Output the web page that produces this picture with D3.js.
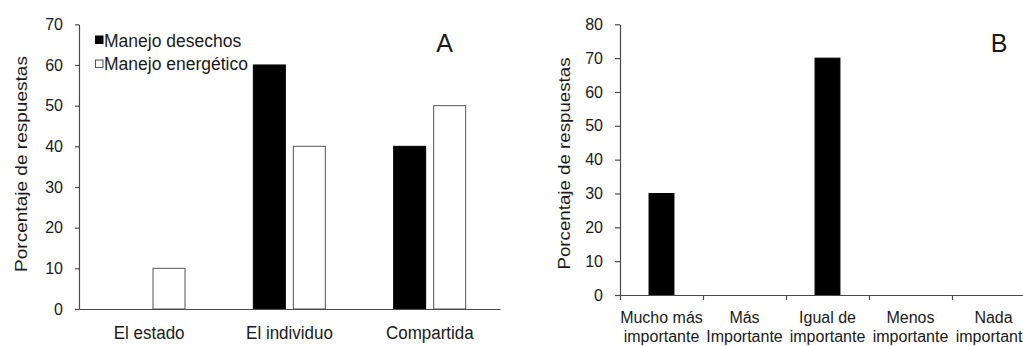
<!DOCTYPE html>
<html>
<head>
<meta charset="utf-8">
<script src="https://cdn.jsdelivr.net/npm/d3@7"></script>
<style>
  html, body { margin: 0; padding: 0; background: #fff; }
  svg { display: block; }
  text { font-family: "Liberation Sans", Arial, sans-serif; fill: #1a1a1a; }
</style>
</head>
<body>
<svg id="chart" width="1023" height="346"></svg>
<script>
// ---- Data: panel A ----
const categoriesA = ["El estado", "El individuo", "Compartida"];
const seriesNamesA = ["Manejo desechos", "Manejo energético"];
const desechos = [0, 60, 40];
const energetico = [10, 40, 50];
const ticksA = [0, 10, 20, 30, 40, 50, 60, 70];

// ---- Data: panel B ----
const categoriesB = [
  ["Mucho más", "importante"],
  ["Más", "Importante"],
  ["Igual de", "importante"],
  ["Menos", "importante"],
  ["Nada", "importante"]
];
const valuesB = [30, 0, 70, 0, 0];
const ticksB = [0, 10, 20, 30, 40, 50, 60, 70, 80];

const yTitle = "Porcentaje de respuestas";

const svg = d3.select("#chart");
const axisColor = "#4a4a4a";

function styleAxis(g) {
  g.selectAll("path.domain").attr("stroke", axisColor).attr("stroke-width", 1.2);
  g.selectAll(".tick line").attr("stroke", axisColor).attr("stroke-width", 1.2);
  g.selectAll(".tick text").style("font-family", '"Liberation Sans", Arial, sans-serif')
    .attr("fill", "#1a1a1a");
}

// ================= Panel A =================
{
  const x0 = d3.scaleBand().domain(categoriesA).range([79, 500]);
  const x1 = d3.scaleBand().domain([0, 1]).range([34, 106]).paddingInner(0.2).paddingOuter(0);
  const y = d3.scaleLinear().domain([0, 70]).range([309, 24.3]);

  // y axis
  const gy = svg.append("g").attr("transform", "translate(79,0)")
    .call(d3.axisLeft(y).tickValues(ticksA).tickSize(4).tickPadding(12).tickSizeOuter(0));
  gy.selectAll(".tick text").style("font-size", "16px");
  styleAxis(gy);

  // bars
  const rows = categoriesA.map((c, i) => ({ c, vals: [desechos[i], energetico[i]] }));
  const groups = svg.append("g").selectAll("g").data(rows).join("g")
    .attr("transform", d => `translate(${x0(d.c)},0)`);
  groups.selectAll("rect").data(d => d.vals.map((v, k) => ({ v, k })).filter(e => e.v > 0))
    .join("rect")
    .attr("x", d => x1(d.k))
    .attr("y", d => y(d.v))
    .attr("width", x1.bandwidth())
    .attr("height", d => y(0) - y(d.v))
    .attr("fill", d => d.k === 0 ? "#000" : "#fff")
    .attr("stroke", d => d.k === 0 ? "#000" : "#555")
    .attr("stroke-width", 1);

  // x axis (no ticks)
  const gx = svg.append("g").attr("transform", "translate(0,309)")
    .call(d3.axisBottom(x0).tickSize(0).tickPadding(0).tickSizeOuter(0));
  styleAxis(gx);
  gx.selectAll(".tick text").attr("dy", null).attr("y", 30 / 1.12)
    .attr("transform", "scale(1,1.12)")
    .style("font-size", "17px");

  // y title
  svg.append("text")
    .attr("transform", "translate(26.5,164) rotate(-90)")
    .attr("text-anchor", "middle")
    .attr("textLength", 216)
    .attr("lengthAdjust", "spacingAndGlyphs")
    .style("font-size", "17px")
    .text(yTitle);

  // legend
  const leg = svg.append("g");
  seriesNamesA.forEach((name, k) => {
    leg.append("rect")
      .attr("x", 95.5).attr("y", 36 + k * 24).attr("width", 7.5).attr("height", 7.5)
      .attr("fill", k === 0 ? "#000" : "#fff")
      .attr("stroke", k === 0 ? "#000" : "#555").attr("stroke-width", 1);
    leg.append("text").attr("x", 104).attr("y", 46.5 + k * 23.5)
      .style("font-size", "17.5px").text(name);
  });

  // panel letter
  svg.append("text").attr("x", 444.5).attr("y", 52).attr("text-anchor", "middle")
    .style("font-size", "25px").text("A");
}

// ================= Panel B =================
{
  const x = d3.scaleBand().domain(d3.range(categoriesB.length)).range([620, 1035])
    .paddingInner(0.7).paddingOuter(0.35);
  const y = d3.scaleLinear().domain([0, 80]).range([295, 24.3]);

  const gy = svg.append("g").attr("transform", "translate(620,0)")
    .call(d3.axisLeft(y).tickValues(ticksB).tickSize(5).tickPadding(12).tickSizeOuter(0));
  gy.selectAll(".tick text").style("font-size", "16px");
  styleAxis(gy);

  svg.append("g").selectAll("rect").data(valuesB.map((v, i) => ({ v, i })).filter(d => d.v > 0))
    .join("rect")
    .attr("x", d => x(d.i))
    .attr("y", d => y(d.v))
    .attr("width", x.bandwidth())
    .attr("height", d => y(0) - y(d.v))
    .attr("fill", "#000").attr("stroke", "#000").attr("stroke-width", 1);

  // x axis line with ticks at category boundaries
  const step = x.step();
  const xb = d3.scaleLinear().domain([0, categoriesB.length]).range([620, 620 + step * categoriesB.length]);
  const gxb = svg.append("g").attr("transform", "translate(0,295)")
    .call(d3.axisBottom(xb).tickValues(d3.range(categoriesB.length + 1)).tickSize(5)
      .tickFormat(() => "").tickSizeOuter(0));
  styleAxis(gxb);

  // category labels (two lines)
  const lab = svg.append("g").selectAll("text").data(categoriesB.map((c, i) => ({ c, i })))
    .join("text")
    .attr("text-anchor", "middle")
    .attr("x", d => x(d.i) + x.bandwidth() / 2)
    .attr("y", 323)
    .style("font-size", "16px");
  lab.selectAll("tspan").data(d => d.c.map((t, j) => ({ t, j, cx: x(d.i) + x.bandwidth() / 2 })))
    .join("tspan")
    .attr("x", d => d.cx)
    .attr("y", d => 323 + d.j * 19)
    .text(d => d.t);

  svg.append("text")
    .attr("transform", "translate(570,163.5) rotate(-90)")
    .attr("text-anchor", "middle")
    .attr("textLength", 212)
    .attr("lengthAdjust", "spacingAndGlyphs")
    .style("font-size", "17px")
    .text(yTitle);

  svg.append("text").attr("x", 999).attr("y", 52).attr("text-anchor", "middle")
    .style("font-size", "25px").text("B");
}
</script>
</body>
</html>
